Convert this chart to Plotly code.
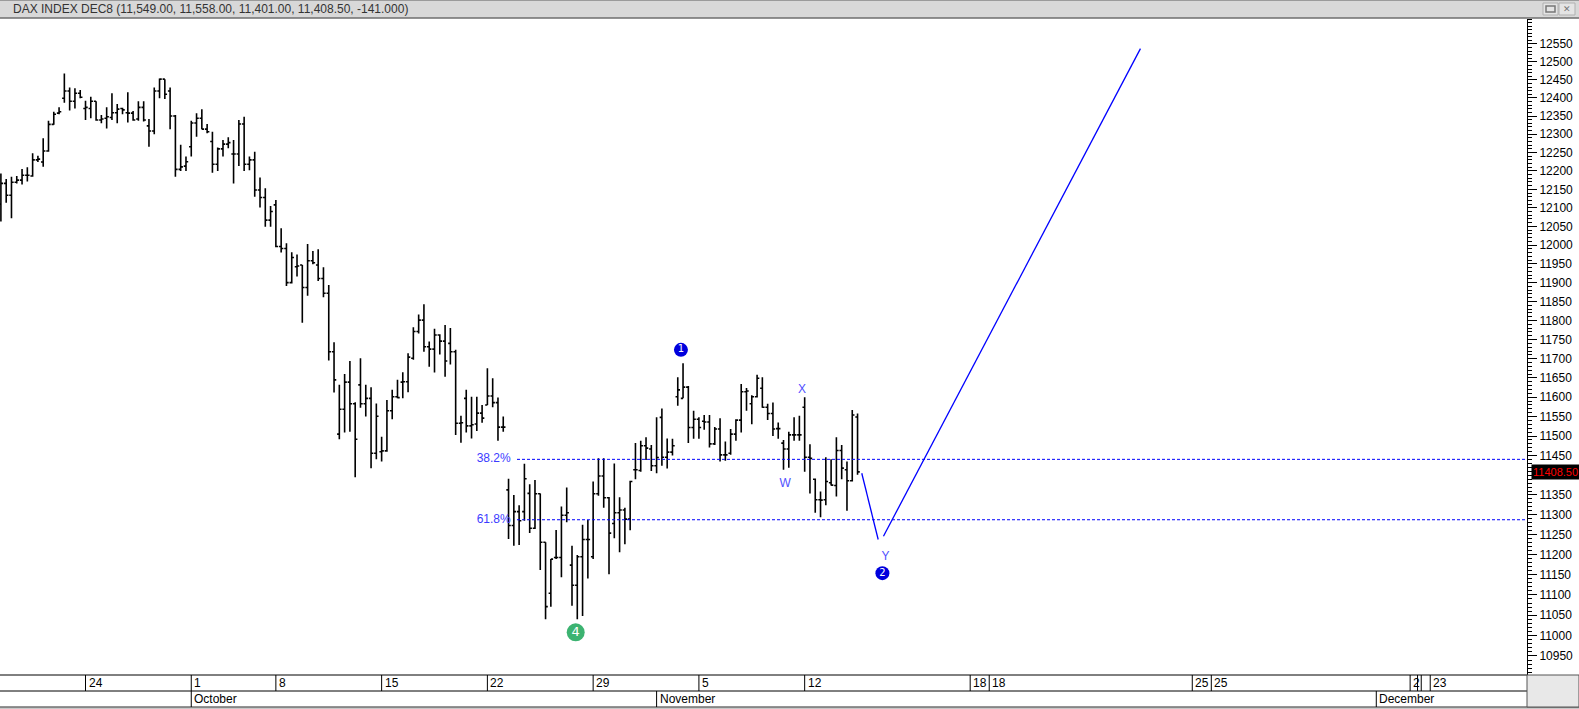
import numpy as np
import plotly.graph_objects as go

# ---------------- data ----------------
opens = [12110, 12166, 12134, 12169, 12175, 12188, 12186, 12230, 12224, 12254,
         12327, 12358, 12399, 12419, 12391, 12413, 12371, 12371, 12391, 12339,
         12344, 12346, 12359, 12371, 12359, 12358, 12342, 12374, 12323, 12309,
         12419, 12452, 12419, 12350, 12204, 12213, 12266, 12331, 12344, 12314,
         12280, 12218, 12260, 12273, 12246, 12246, 12328, 12218, 12230, 12148,
         12128, 12067, 12108, 11996, 11991, 11900, 11942, 11947, 11887, 11958,
         11947, 11911, 11872, 11718, 11505, 11569, 11639, 11583, 11632, 11583,
         11597, 11456, 11460, 11462, 11565, 11601, 11639, 11640, 11701, 11771,
         11801, 11731, 11725, 11762, 11746, 11740, 11718, 11533, 11597, 11526,
         11531, 11559, 11580, 11603, 11586, 11523, 11363, 11273, 11308, 11308,
         11354, 11266, 11353, 11231, 11104, 11193, 11193, 11299, 11174, 11124,
         11195, 11238, 11195, 11353, 11398, 11343, 11278, 11305, 11312, 11289,
         11414, 11412, 11475, 11467, 11424, 11548, 11446, 11459, 11601, 11597,
         11626, 11522, 11543, 11538, 11536, 11480, 11518, 11452, 11456, 11505,
         11541, 11614, 11583, 11601, 11623, 11574, 11558, 11519, 11482, 11467,
         11503, 11503, 11574, 11446, 11390, 11338, 11338, 11381, 11374, 11463,
         11414, 11386, 11549]
highs = [12193, 12178, 12184, 12186, 12205, 12210, 12248, 12241, 12289, 12337,
         12362, 12374, 12468, 12429, 12427, 12422, 12392, 12403, 12391, 12353,
         12374, 12413, 12383, 12373, 12416, 12364, 12391, 12391, 12342, 12429,
         12454, 12452, 12429, 12353, 12271, 12239, 12337, 12358, 12369, 12328,
         12307, 12264, 12284, 12292, 12284, 12339, 12348, 12239, 12252, 12182,
         12153, 12105, 12121, 12045, 12005, 11981, 11975, 11947, 12003, 11984,
         11989, 11941, 11894, 11743, 11632, 11660, 11694, 11587, 11701, 11632,
         11626, 11584, 11498, 11593, 11619, 11645, 11665, 11714, 11782, 11816,
         11843, 11745, 11778, 11764, 11788, 11780, 11723, 11552, 11619, 11601,
         11601, 11580, 11675, 11649, 11599, 11550, 11391, 11350, 11324, 11429,
         11377, 11388, 11354, 11231, 11189, 11262, 11321, 11369, 11222, 11199,
         11275, 11287, 11384, 11443, 11443, 11345, 11430, 11344, 11318, 11386,
         11482, 11488, 11497, 11477, 11548, 11571, 11494, 11493, 11652, 11688,
         11629, 11565, 11548, 11554, 11554, 11523, 11546, 11486, 11518, 11543,
         11634, 11624, 11605, 11658, 11652, 11583, 11586, 11535, 11490, 11511,
         11548, 11552, 11600, 11479, 11392, 11359, 11446, 11441, 11497, 11477,
         11435, 11567, 11558]
lows = [12063, 12114, 12072, 12166, 12163, 12171, 12184, 12224, 12211, 12252,
        12326, 12355, 12387, 12365, 12371, 12399, 12339, 12344, 12337, 12330,
        12316, 12339, 12330, 12355, 12332, 12337, 12337, 12335, 12266, 12300,
        12399, 12397, 12314, 12184, 12200, 12200, 12239, 12293, 12314, 12303,
        12195, 12200, 12239, 12262, 12166, 12213, 12200, 12202, 12130, 12101,
        12049, 12049, 11994, 11980, 11891, 11898, 11916, 11794, 11865, 11949,
        11904, 11861, 11695, 11612, 11492, 11509, 11511, 11395, 11573, 11550,
        11418, 11441, 11435, 11460, 11543, 11597, 11597, 11613, 11697, 11766,
        11718, 11679, 11664, 11711, 11653, 11685, 11503, 11483, 11509, 11494,
        11513, 11534, 11580, 11574, 11488, 11511, 11239, 11222, 11224, 11285,
        11254, 11264, 11162, 11040, 11071, 11189, 11144, 11281, 11073, 11040,
        11048, 11141, 11189, 11348, 11318, 11151, 11241, 11206, 11226, 11261,
        11390, 11409, 11439, 11411, 11405, 11424, 11417, 11450, 11578, 11597,
        11482, 11493, 11493, 11516, 11471, 11477, 11435, 11437, 11452, 11488,
        11509, 11565, 11530, 11599, 11573, 11541, 11500, 11493, 11414, 11419,
        11488, 11488, 11409, 11354, 11305, 11294, 11324, 11374, 11346, 11390,
        11310, 11384, 11401]
closes = [12166, 12134, 12169, 12175, 12188, 12188, 12230, 12232, 12254, 12327,
          12355, 12362, 12419, 12391, 12413, 12402, 12374, 12391, 12339, 12342,
          12348, 12359, 12369, 12367, 12358, 12339, 12374, 12339, 12309, 12419,
          12452, 12410, 12350, 12204, 12211, 12225, 12331, 12344, 12314, 12307,
          12218, 12260, 12273, 12277, 12246, 12328, 12218, 12230, 12148, 12128,
          12067, 12090, 11996, 11991, 11900, 11967, 11944, 11887, 11958, 11953,
          11911, 11872, 11718, 11645, 11569, 11639, 11583, 11492, 11583, 11597,
          11456, 11551, 11462, 11565, 11601, 11599, 11640, 11704, 11771, 11801,
          11731, 11725, 11762, 11746, 11694, 11718, 11533, 11534, 11526, 11529,
          11559, 11546, 11603, 11586, 11523, 11523, 11273, 11308, 11285, 11391,
          11266, 11353, 11231, 11071, 11189, 11193, 11299, 11305, 11124, 11195,
          11238, 11238, 11353, 11398, 11343, 11254, 11305, 11312, 11289, 11384,
          11414, 11475, 11469, 11424, 11445, 11446, 11459, 11475, 11619, 11626,
          11522, 11543, 11522, 11536, 11480, 11518, 11452, 11452, 11505, 11541,
          11614, 11616, 11601, 11649, 11574, 11558, 11518, 11519, 11467, 11503,
          11503, 11503, 11446, 11443, 11338, 11337, 11384, 11375, 11463, 11418,
          11386, 11554, 11408.5]
bar_index = list(range(len(opens)))
daily_change = -141.0

day_tick_index = [16, 36, 52, 72, 92, 112, 132, 152, 183.3, 186.9, 225.3, 228.9, 266.5, 267.9, 268.6, 270.3]
day_tick_labels = ['24', '1', '8', '15', '22', '29', '5', '12', '18', '18', '25', '25', '2', '', '', '23']
month_tick_index = [36, 124, 260.1]
month_tick_labels = ['October', 'November', 'December']

price_ticks = list(range(10950, 12551, 50))
price_minor_ticks = list(range(10910, 12621, 10))

wave1_high = 11688
wave4_low = 11040
fib_ratios = [0.382, 0.618]
fib_labels = ['38.2%', '61.8%']
fib_start_index = 97.6
fib_label_index = 96.4

proj1_x = [162.8, 165.9]
proj1_y = [11405, 11238]
proj2_x = [166.9, 215.5]
proj2_y = [11246, 12537]

letter_labels = ['X', 'W', 'Y']
letter_x = [151.5, 148.3, 167.3]
letter_y = [11619, 11377, 11195]

circle_labels = ['1', '2']
circle_x = [128.6, 166.7]
circle_y = [11723, 11154]
green_label = '4'
green_x = 108.7
green_y = 11008

# ---------------- layout constants ----------------
W, H = 1579, 709
PL, PR, PT, PB = 0, 52, 19, 34
PW = W - PL - PR
PH = H - PT - PB
FONT = 'Liberation Sans, Arial, sans-serif'


def px(xp):
    return (xp - PL) / PW


def py(yp):
    return (H - PB - yp) / PH


fig = go.Figure()

fig.add_trace(go.Ohlc(
    x=bar_index, open=opens, high=highs, low=lows, close=closes,
    increasing=dict(line=dict(color='black', width=1.6)),
    decreasing=dict(line=dict(color='black', width=1.6)),
    tickwidth=0.42, hoverinfo='skip', showlegend=False))

x_end = 288.6
for r, lab in zip(fib_ratios, fib_labels):
    lvl = wave1_high - r * (wave1_high - wave4_low)
    fig.add_trace(go.Scatter(x=[fib_start_index, x_end], y=[lvl, lvl], mode='lines',
                             line=dict(color='#0000ff', width=1, dash='3px,2px'),
                             hoverinfo='skip', showlegend=False))
    fig.add_trace(go.Scatter(x=[fib_label_index], y=[lvl], mode='text', text=[lab],
                             textposition='middle left',
                             textfont=dict(family=FONT, size=12, color='#3c3cff'),
                             hoverinfo='skip', showlegend=False))

for xs, ys in [(proj1_x, proj1_y), (proj2_x, proj2_y)]:
    fig.add_trace(go.Scatter(x=xs, y=ys, mode='lines', line=dict(color='#0000ff', width=1.3),
                             hoverinfo='skip', showlegend=False))

fig.add_trace(go.Scatter(x=letter_x, y=letter_y, mode='text', text=letter_labels,
                         textposition='middle center',
                         textfont=dict(family=FONT, size=12, color='#5050ff'),
                         hoverinfo='skip', showlegend=False))

fig.add_trace(go.Scatter(x=circle_x, y=circle_y, mode='markers+text', text=circle_labels,
                         textposition='middle center',
                         marker=dict(size=14, color='#0000dd', line=dict(width=0)),
                         textfont=dict(family='DejaVu Sans, sans-serif', size=10, color='white'),
                         hoverinfo='skip', showlegend=False))
fig.add_trace(go.Scatter(x=[green_x], y=[green_y], mode='markers+text', text=[green_label],
                         textposition='middle center',
                         marker=dict(size=18, color='#3cb371', line=dict(width=0)),
                         textfont=dict(family='DejaVu Sans, sans-serif', size=13, color='white'),
                         hoverinfo='skip', showlegend=False))

shapes = []
ann = []

# title bar
shapes.append(dict(type='rect', xref='paper', yref='paper', x0=px(0), x1=px(W), y0=py(18), y1=py(0),
                   fillcolor='#d8d8d8', line=dict(width=0), layer='above'))
shapes.append(dict(type='line', xref='paper', yref='paper', x0=px(0), x1=px(W), y0=py(18), y1=py(18),
                   line=dict(color='#6e6e6e', width=1.5)))
shapes.append(dict(type='line', xref='paper', yref='paper', x0=px(0), x1=px(W), y0=py(0.5), y1=py(0.5),
                   line=dict(color='#9a9a9a', width=1)))
title = 'DAX INDEX DEC8 ({:,.2f}, {:,.2f}, {:,.2f}, {:,.2f}, {:,.3f})'.format(
    opens[-1], highs[-1], lows[-1], closes[-1], daily_change)
ann.append(dict(xref='paper', yref='paper', x=px(11), y=py(9), xanchor='left', yanchor='middle',
                text=title, showarrow=False, font=dict(family=FONT, size=12, color='#333333')))
# window buttons
for x0b, x1b in [(1543, 1558), (1559, 1575)]:
    shapes.append(dict(type='rect', xref='paper', yref='paper', x0=px(x0b), x1=px(x1b), y0=py(15), y1=py(3),
                       fillcolor='#e4e4e4', line=dict(color='#b0b0b0', width=1)))
shapes.append(dict(type='rect', xref='paper', yref='paper', x0=px(1546), x1=px(1555), y0=py(12), y1=py(6),
                   fillcolor='rgba(0,0,0,0)', line=dict(color='#777777', width=1.5)))
ann.append(dict(xref='paper', yref='paper', x=px(1567), y=py(9), xanchor='center', yanchor='middle',
                text='✕', showarrow=False, font=dict(family='DejaVu Sans', size=9, color='#777777')))

# date rows
row1_top, row1_bot, row2_bot = H - PB, H - PB + 16, H - PB + 32
shapes.append(dict(type='line', xref='paper', yref='paper', x0=px(0), x1=px(PW), y0=py(row1_top), y1=py(row1_top),
                   line=dict(color='black', width=1)))
shapes.append(dict(type='line', xref='paper', yref='paper', x0=px(0), x1=px(PW), y0=py(row1_bot), y1=py(row1_bot),
                   line=dict(color='black', width=1)))
shapes.append(dict(type='rect', xref='paper', yref='paper', x0=px(0), x1=px(W), y0=py(H + 2), y1=py(row2_bot),
                   fillcolor='#c8c8c8', line=dict(width=0)))
shapes.append(dict(type='line', xref='paper', yref='paper', x0=px(0), x1=px(W), y0=py(row2_bot), y1=py(row2_bot),
                   line=dict(color='#707070', width=1.5)))
shapes.append(dict(type='rect', xref='paper', yref='paper', x0=px(PW), x1=px(W), y0=py(row2_bot), y1=py(row1_top),
                   fillcolor='#e8e8e8', line=dict(color='#555555', width=1)))
for xi, lab in zip(day_tick_index, day_tick_labels):
    shapes.append(dict(type='line', xref='x', yref='paper', x0=xi, x1=xi, y0=py(row1_top), y1=py(row1_bot),
                       line=dict(color='black', width=1)))
    if lab:
        ann.append(dict(xref='x', yref='paper', x=xi, y=py((row1_top + row1_bot) / 2), xanchor='left',
                        yanchor='middle', xshift=1, text=lab, showarrow=False,
                        font=dict(family=FONT, size=12, color='black')))
for xi, lab in zip(month_tick_index, month_tick_labels):
    shapes.append(dict(type='line', xref='x', yref='paper', x0=xi, x1=xi, y0=py(row1_bot), y1=py(row2_bot),
                       line=dict(color='black', width=1)))
    ann.append(dict(xref='x', yref='paper', x=xi, y=py((row1_bot + row2_bot) / 2), xanchor='left',
                    yanchor='middle', xshift=1, text=lab, showarrow=False,
                    font=dict(family=FONT, size=12, color='black')))

# last price box (covers the axis label underneath it, as in the original)
ann.append(dict(xref='paper', yref='y', x=px(1531), y=np.log10(closes[-1]), xanchor='left', yanchor='middle',
                text='{:.2f}'.format(closes[-1]), showarrow=False, bgcolor='black', borderpad=1,
                font=dict(family=FONT, size=11, color='#ff0000')))
covered_tick = 11400
tick_text = ['' if v == covered_tick else str(v) for v in price_ticks]

fig.update_layout(
    width=W, height=H, margin=dict(l=PL, r=PR, t=PT, b=PB),
    paper_bgcolor='white', plot_bgcolor='white',
    showlegend=False, hovermode=False,
    shapes=shapes, annotations=ann,
    xaxis=dict(range=[-0.17, x_end], showgrid=False, zeroline=False, showticklabels=False,
               ticks='', showline=False, rangeslider=dict(visible=False), fixedrange=True),
    yaxis=dict(type='log', side='right', range=[np.log10(10903.7), np.log10(12620)],
               tickmode='array', tickvals=price_ticks, ticktext=tick_text,
               ticks='outside', ticklen=9, tickcolor='black', tickwidth=1,
               showline=True, linecolor='black', linewidth=1, mirror=False,
               showgrid=False, zeroline=False,
               tickfont=dict(family=FONT, size=12, color='black'),
               minor=dict(tickmode='array', tickvals=price_minor_ticks, ticks='outside', ticklen=4,
                          tickcolor='black', tickwidth=1, showgrid=False),
               fixedrange=True),
)

fig.write_html('out.html', config={'displayModeBar': False},
               post_script="document.body.style.margin='0px';document.body.style.overflow='hidden';")
